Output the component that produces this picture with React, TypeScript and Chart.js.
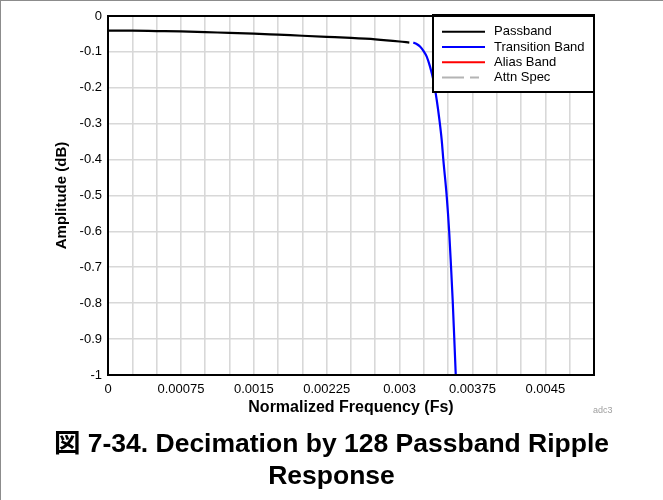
import React, { useEffect, useRef } from 'react';
import { Chart, registerables } from 'chart.js';

Chart.register(...registerables);

// ---- data ----
const passbandFreq = [0, 0.00025, 0.0005, 0.00075, 0.001, 0.00125, 0.0015, 0.00175, 0.002, 0.00225, 0.0025, 0.00275, 0.003, 0.0031];
const passbandDb = [-0.041, -0.041, -0.042, -0.043, -0.045, -0.047, -0.049, -0.052, -0.055, -0.058, -0.061, -0.065, -0.071, -0.074];

const transitionFreq = [0.003141, 0.003175, 0.00321, 0.003245, 0.003279, 0.003313, 0.003347, 0.003382, 0.00341, 0.003433, 0.00345, 0.003485, 0.003511, 0.003529, 0.003546, 0.003563, 0.003577, 0.0036];
const transitionDb = [-0.074, -0.078, -0.085, -0.097, -0.113, -0.141, -0.178, -0.234, -0.29, -0.345, -0.401, -0.503, -0.605, -0.698, -0.791, -0.902, -0.995, -1.16];

const aliasFreq: number[] = [];
const aliasDb: number[] = [];
const attnFreq: number[] = [];
const attnDb: number[] = [];

const seriesNames = ['Passband', 'Transition Band', 'Alias Band', 'Attn Spec'];
const seriesColors = ['#000000', '#0000ff', '#ff0000', '#b4b4b4'];

const xTickLabels = ['0', '0.00075', '0.0015', '0.00225', '0.003', '0.00375', '0.0045'];
const yTickLabels = ['-1', '-0.9', '-0.8', '-0.7', '-0.6', '-0.5', '-0.4', '-0.3', '-0.2', '-0.1', '0'];

const xMin = 0;
const xMax = 0.005;
const xGridStep = 0.00025;
const yMin = -1;
const yMax = 0;
const yGridStep = 0.1;

const FONT = "'Liberation Sans', Arial, sans-serif";

const toPoints = (xs: number[], ys: number[]) => xs.map((x, i) => ({ x, y: ys[i] }));

const boxLegend = {
  id: 'boxLegend',
  afterDatasetsDraw(chart: any) {
    const { ctx, chartArea } = chart;
    const w = 161;
    const h = 77;
    const x0 = chartArea.right - w;
    const y0 = chartArea.top - 1;
    ctx.save();
    ctx.fillStyle = '#ffffff';
    ctx.fillRect(x0, y0, w, h);
    ctx.lineWidth = 2;
    ctx.strokeStyle = '#000000';
    ctx.strokeRect(x0, y0, w, h);
    chart.data.datasets.forEach((ds: any, i: number) => {
      const y = y0 + 16.7 + i * 15.3;
      ctx.beginPath();
      ctx.setLineDash(ds.borderDash || []);
      ctx.strokeStyle = ds.borderColor;
      ctx.lineWidth = 2;
      ctx.moveTo(x0 + 9, y);
      ctx.lineTo(x0 + 52, y);
      ctx.stroke();
      ctx.setLineDash([]);
      ctx.fillStyle = '#000000';
      ctx.font = `13px ${FONT}`;
      ctx.textBaseline = 'middle';
      ctx.textAlign = 'left';
      ctx.fillText(ds.label, x0 + 61, y);
    });
    ctx.restore();
  },
  afterDraw(chart: any) {
    const { ctx, chartArea } = chart;
    ctx.save();
    ctx.lineWidth = 2;
    ctx.strokeStyle = '#000000';
    ctx.strokeRect(chartArea.left, chartArea.top, chartArea.right - chartArea.left, chartArea.bottom - chartArea.top);
    ctx.restore();
  },
};

export default function App() {
  const ref = useRef<HTMLCanvasElement | null>(null);

  useEffect(() => {
    if (!ref.current) return;
    const chart = new Chart(ref.current, {
      type: 'line',
      data: {
        datasets: [
          { label: seriesNames[0], data: toPoints(passbandFreq, passbandDb), borderColor: seriesColors[0], borderWidth: 2.2, pointRadius: 0, fill: false, cubicInterpolationMode: 'monotone' },
          { label: seriesNames[1], data: toPoints(transitionFreq, transitionDb), borderColor: seriesColors[1], borderWidth: 2.2, pointRadius: 0, fill: false, cubicInterpolationMode: 'monotone' },
          { label: seriesNames[2], data: toPoints(aliasFreq, aliasDb), borderColor: seriesColors[2], borderWidth: 2, pointRadius: 0, fill: false },
          { label: seriesNames[3], data: toPoints(attnFreq, attnDb), borderColor: seriesColors[3], borderWidth: 2, borderDash: [22, 6, 9, 6], pointRadius: 0, fill: false },
        ],
      },
      options: {
        responsive: false,
        animation: false,
        events: [],
        layout: { padding: { left: 0, top: 16, right: 69, bottom: 0 } },
        plugins: { legend: { display: false }, tooltip: { enabled: false } },
        scales: {
          x: {
            type: 'linear',
            min: xMin,
            max: xMax,
            afterBuildTicks: (scale: any) => {
              const n = Math.round((xMax - xMin) / xGridStep);
              scale.ticks = Array.from({ length: n + 1 }, (_, i) => ({ value: xMin + i * xGridStep }));
            },
            afterFit: (scale: any) => { scale.height = 55; },
            grid: { color: '#d8d8d8', lineWidth: 1.6, drawTicks: false },
            border: { color: '#000000', width: 2 },
            ticks: {
              autoSkip: false,
              maxRotation: 0,
              padding: 7,
              color: '#000000',
              font: { family: FONT, size: 13 },
              callback: (_v: any, index: number) => (index % 3 === 0 ? xTickLabels[index / 3] ?? '' : ''),
            },
            title: {
              display: true,
              text: 'Normalized Frequency (Fs)',
              color: '#000000',
              font: { family: FONT, size: 16, weight: 'bold' },
              padding: { top: 0, bottom: 13 },
            },
          },
          y: {
            type: 'linear',
            min: yMin,
            max: yMax,
            afterBuildTicks: (scale: any) => {
              const n = Math.round((yMax - yMin) / yGridStep);
              scale.ticks = Array.from({ length: n + 1 }, (_, i) => ({ value: yMin + i * yGridStep }));
            },
            afterFit: (scale: any) => { scale.width = 108; },
            grid: { color: '#d8d8d8', lineWidth: 1.6, drawTicks: false },
            border: { color: '#000000', width: 2 },
            ticks: {
              autoSkip: false,
              padding: 6,
              color: '#000000',
              font: { family: FONT, size: 13 },
              callback: (_v: any, index: number) => yTickLabels[index] ?? '',
            },
            title: {
              display: true,
              text: 'Amplitude (dB)',
              color: '#000000',
              font: { family: FONT, size: 15, weight: 'bold' },
              padding: { top: 53, bottom: 0 },
            },
          },
        },
      },
      plugins: [boxLegend],
    } as any);
    return () => chart.destroy();
  }, []);

  return (
    <div style={{ position: 'fixed', left: 0, top: 0, width: 663, height: 500, background: '#ffffff', overflow: 'hidden' }}>
      <canvas ref={ref} width={663} height={430} style={{ position: 'absolute', left: 0, top: 0, width: 663, height: 430 }} />
      <div style={{ position: 'absolute', left: 0, top: 0, width: 663, height: 1, background: '#8c8c8c' }} />
      <div style={{ position: 'absolute', left: 0, top: 0, width: 1, height: 500, background: '#8c8c8c' }} />
      <div style={{ position: 'absolute', left: 593, top: 405, fontFamily: FONT, fontSize: 9, color: '#a0a0a0' }}>adc3</div>
      <div
        style={{
          position: 'absolute',
          left: 0,
          top: 427,
          width: 663,
          textAlign: 'center',
          fontFamily: "'Liberation Sans', Arial, 'Noto Sans CJK JP', sans-serif",
          fontWeight: 'bold',
          fontSize: 26.5,
          lineHeight: '32px',
          color: '#000000',
        }}
      >
        <div>図 7-34. Decimation by 128 Passband Ripple</div>
        <div>Response</div>
      </div>
    </div>
  );
}
